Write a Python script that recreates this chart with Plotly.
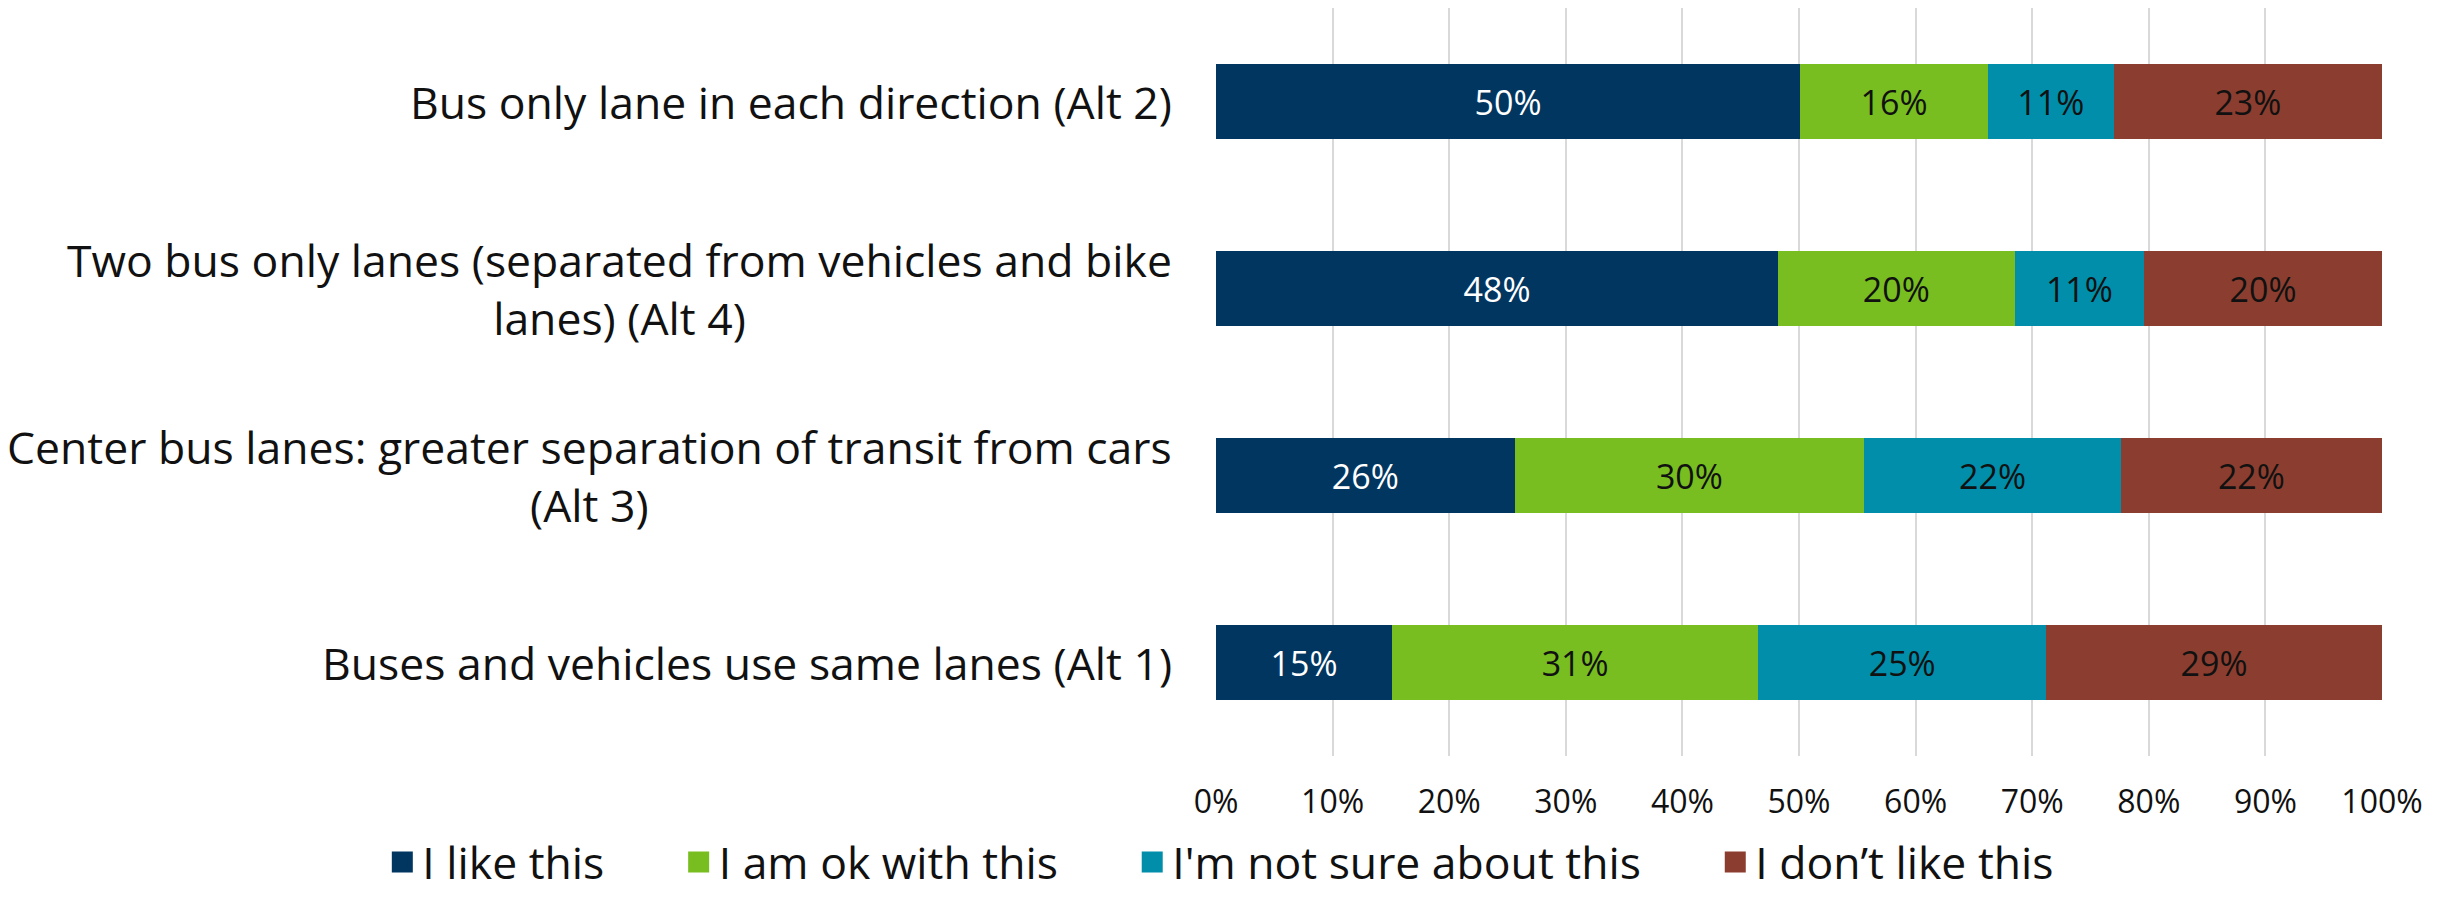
import plotly.graph_objects as go

categories = [
    "Buses and vehicles use same lanes (Alt 1)",
    "Center bus lanes: greater separation of transit from cars<br>(Alt 3)",
    "Two bus only lanes (separated from vehicles and bike<br>lanes) (Alt 4)",
    "Bus only lane in each direction (Alt 2)",
]
series_names = ["I like this", "I am ok with this", "I'm not sure about this", "I don\u2019t like this"]
like = [15.1, 25.6, 48.2, 50.1]
ok = [31.4, 30.0, 20.3, 16.1]
not_sure = [24.7, 22.0, 11.1, 10.8]
dislike = [28.8, 22.4, 20.4, 23.0]
tick_vals = [0, 10, 20, 30, 40, 50, 60, 70, 80, 90, 100]
tick_text = [f"{v}%" for v in tick_vals]

colors = ["#003660", "#78BE20", "#008EAA", "#8B3E2F"]
text_colors = ["white", "#111111", "#111111", "#111111"]
FONT = "Open Sans"
PAD = "\u00a0" * 6

fig = go.Figure()
for name, vals, col, tc in zip(series_names, [like, ok, not_sure, dislike], colors, text_colors):
    fig.add_trace(go.Bar(
        y=categories, x=vals, name=name, orientation="h",
        marker=dict(color=col, line=dict(width=0)),
        text=[f"{round(v)}%" for v in vals],
        textposition="inside", insidetextanchor="middle",
        textfont=dict(color=tc, size=34, family=FONT),
        width=0.4, showlegend=False, legendgroup=name,
    ))
# legend proxies (square markers)
for i, (name, col) in enumerate(zip(series_names, colors)):
    fig.add_trace(go.Scatter(
        x=[None], y=[None], mode="markers",
        name=name + (PAD if i < len(series_names) - 1 else ""),
        legendgroup=name,
        marker=dict(symbol="square", size=16, color=col, line=dict(width=5, color=col)),
        showlegend=True,
    ))

for c in categories:
    fig.add_annotation(
        x=0, xref="paper", y=c, yref="y", text=c, showarrow=False,
        xanchor="right", yanchor="middle", align="center", xshift=-42,
        font=dict(size=44.5, family=FONT, color="#111111"),
    )

fig.update_layout(
    barmode="stack",
    width=2453, height=898,
    margin=dict(l=1216, r=71, t=8, b=142, autoexpand=False),
    paper_bgcolor="white", plot_bgcolor="white",
    font=dict(family=FONT, color="#111111"),
    legend=dict(
        orientation="h",
        x=-0.715, xanchor="left", y=-0.1417, yanchor="middle",
        font=dict(size=44.5, family=FONT, color="#111111"),
        itemsizing="trace", traceorder="normal",
    ),
    xaxis=dict(
        range=[0, 100], tickvals=tick_vals, ticktext=tick_text,
        showgrid=True, gridcolor="#d9d9d9", gridwidth=2, zeroline=False,
        showline=False, tickfont=dict(size=32, family=FONT, color="#111111"),
        ticks="", ticklen=0, ticklabelstandoff=24,
    ),
    yaxis=dict(
        categoryorder="array", categoryarray=categories,
        showticklabels=False, showgrid=False, zeroline=False, showline=False,
        range=[-0.5, 3.5],
    ),
)

fig.write_html("out.html", config={"displayModeBar": False},
               post_script="document.body.style.margin='0';document.body.style.padding='0';")
